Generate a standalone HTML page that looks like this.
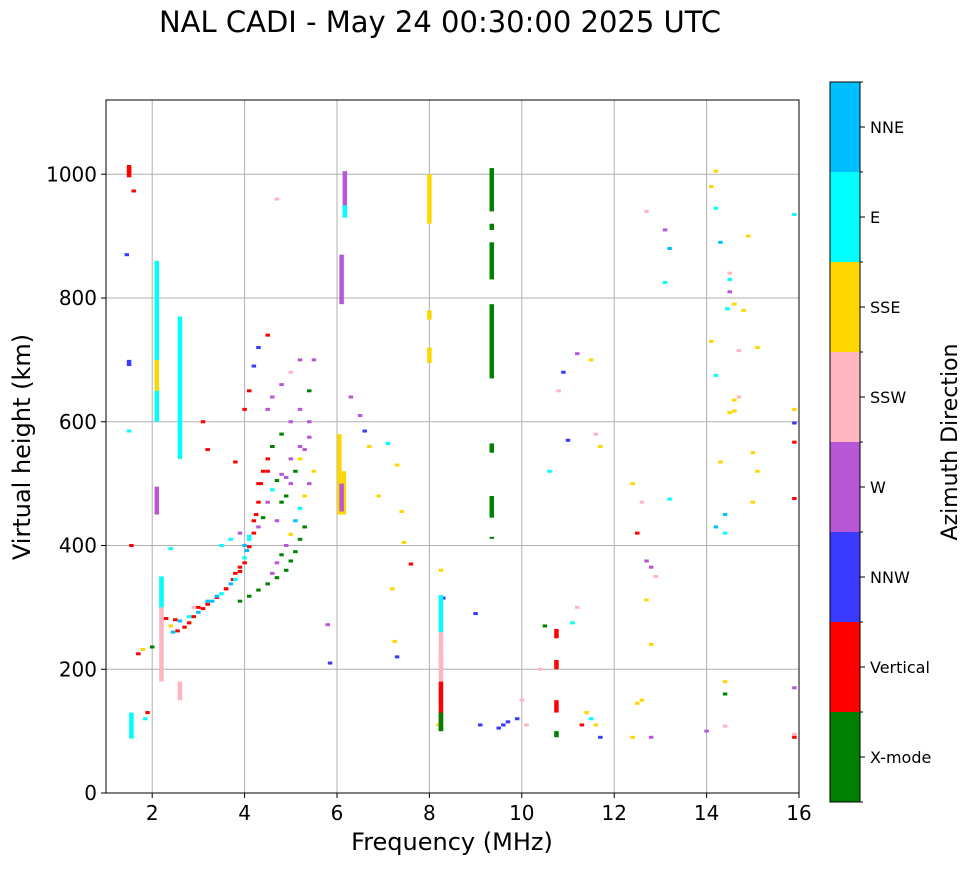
<!DOCTYPE html>
<html><head><meta charset="utf-8"><style>
body{margin:0;background:#fff;font-family:"DejaVu Sans","Liberation Sans",sans-serif}
svg text{font-family:"DejaVu Sans","Liberation Sans",sans-serif}
</style></head><body>
<svg id="chart" width="972" height="865">
<text x="440" y="32" font-size="29" text-anchor="middle">NAL CADI - May 24 00:30:00 2025 UTC</text>
<g id="grid"></g><g id="marks"></g><g id="axes"></g><g id="cbar"></g>
<text x="452" y="850" font-size="24" text-anchor="middle">Frequency (MHz)</text>
<text x="30" y="447" font-size="24" text-anchor="middle" transform="rotate(-90 30 447)">Virtual height (km)</text>
<text x="957" y="442" font-size="22" text-anchor="middle" transform="rotate(-90 957 442)">Azimuth Direction</text>
</svg>
<script>
const xTicks=[2,4,6,8,10,12,14,16];
const yTicks=[0,200,400,600,800,1000];
const dirNames=["X-mode","Vertical","NNW","W","SSW","SSE","E","NNE"];
const dirColors=["#008000","#ff0000","#3a3aff","#b857d6","#ffb6c1","#ffd700","#00ffff","#00bfff"];
// scattered echoes: frequency (MHz), height (km), direction index
const ptF=[1.45,1.5,1.55,1.5,1.6,1.7,1.8,1.85,1.9,2.0,2.3,2.4,2.5,2.45,2.55,2.7,2.8,2.9,3.0,3.1,3.2,3.3,3.4,3.5,3.6,3.7,3.75,3.8,3.9,4.0,4.05,4.1,4.2,2.6,2.8,3.0,3.2,3.4,3.6,3.8,3.9,4.0,4.1,4.2,4.25,4.3,4.35,4.4,4.5,4.6,3.5,3.7,3.9,4.0,4.1,4.3,4.4,4.5,4.6,4.7,4.8,4.9,5.0,5.1,5.2,5.3,5.4,3.9,4.1,4.3,4.5,4.7,4.9,5.0,5.1,5.2,5.3,4.6,4.7,4.8,4.9,5.0,5.1,5.2,5.3,5.4,5.5,4.7,4.8,4.9,5.0,5.2,5.4,4.5,4.6,4.8,5.0,5.2,4.6,4.8,5.0,5.2,5.4,5.5,4.3,4.5,4.0,4.1,4.2,4.3,4.5,4.7,3.8,3.2,3.1,2.6,2.4,2.9,5.8,5.85,6.3,6.5,6.6,6.7,6.9,7.1,7.3,7.4,7.45,7.6,7.2,7.25,7.3,8.2,8.25,8.3,9.0,9.1,9.5,9.6,9.7,9.9,10.0,10.1,10.4,10.5,10.6,10.8,10.9,11.0,11.2,11.3,11.4,11.5,11.6,11.7,11.1,11.2,11.5,11.6,11.7,12.4,12.5,12.6,12.7,12.8,12.9,12.7,12.8,12.6,12.5,12.4,12.8,13.1,13.2,13.1,13.2,12.7,14.0,14.2,14.3,14.4,14.4,14.4,14.4,14.5,14.5,14.5,14.6,14.8,14.9,14.1,14.2,14.3,14.2,14.5,14.7,15.0,15.1,15.1,15.0,14.7,14.6,14.2,14.1,14.4,15.9,15.9,15.9,15.9,15.9,15.9,15.9,15.9];
const ptH=[870,585,400,1005,973,225,232,120,130,236,282,270,280,260,262,268,275,285,292,298,305,310,316,322,330,338,345,355,365,380,392,410,440,278,285,300,310,318,330,345,358,372,398,420,450,470,500,520,540,560,400,410,420,400,415,430,445,470,490,505,515,480,500,520,540,555,575,310,318,328,338,348,360,375,390,410,430,355,372,385,400,418,440,460,480,500,520,440,470,510,540,560,600,620,640,660,680,700,560,580,600,620,650,700,500,520,620,650,690,720,740,960,535,555,600,590,395,300,272,210,640,610,585,560,480,565,530,455,405,370,330,245,220,110,360,315,290,110,105,110,115,120,150,110,200,270,520,650,680,570,300,110,130,120,110,90,275,710,700,580,560,500,420,470,375,365,350,312,240,150,145,90,90,910,880,825,475,940,100,430,535,420,450,160,108,840,830,810,790,780,900,980,945,890,675,615,640,550,720,520,470,715,635,1005,730,180,170,95,935,90,620,598,476,567,490,790,720,118];
const ptD=[2,6,1,1,1,1,5,6,1,0,1,5,1,7,1,1,1,1,7,1,1,7,1,6,1,7,1,1,1,6,7,6,1,7,6,1,7,7,1,6,1,1,1,1,1,1,1,1,1,1,6,6,3,7,6,3,0,3,6,0,3,0,3,0,5,3,3,0,0,0,0,0,0,0,0,0,0,3,3,0,3,5,7,6,5,3,5,3,0,3,3,3,3,3,3,3,4,3,0,0,3,3,0,3,1,1,1,1,2,2,1,4,1,1,1,5,6,4,3,2,3,3,2,5,5,6,5,5,5,1,5,5,2,5,5,2,2,2,2,2,2,2,4,4,4,0,6,4,2,2,4,1,5,6,5,2,6,3,5,4,5,5,1,4,3,3,4,5,5,5,5,5,3,3,7,6,6,4,3,7,5,6,7,0,4,4,6,3,5,5,5,5,6,7,6,5,4,5,5,5,5,4,5,5,5,5,3,4,6,1,5,2,1,1,1,0,6,5,5,5];
// vertical echo columns: frequency, low height, high height, direction
const segF=[1.5,1.5,1.55,2.1,2.1,2.1,2.2,2.2,2.6,2.6,6.17,6.17,6.1,6.05,6.15,6.1,8.0,8.0,8.0,8.25,8.25,8.25,8.25,8.25,9.35,9.35,9.35,9.35,9.35,9.35,9.35,10.75,10.75,10.75,10.75,14.45,14.6];
const segLo=[995,690,88,600,650,450,180,300,540,150,930,930,790,450,450,455,920,695,765,140,100,100,260,200,670,830,910,940,550,445,412,130,200,250,90,780,615];
const segHi=[1015,700,130,860,700,495,350,350,770,180,1005,950,870,580,520,500,1000,720,780,260,180,130,320,230,790,890,920,1010,565,480,414,150,215,265,100,785,620];
const segD=[1,2,6,6,5,3,4,6,6,4,3,6,3,5,5,3,5,5,5,4,1,0,6,4,0,0,0,0,0,0,0,1,1,1,0,6,5];

const L=106,R=799,T=100,B=793,XMIN=1,XMAX=16,YMIN=0,YMAX=1120;
const xs=f=>L+(f-XMIN)/(XMAX-XMIN)*(R-L);
const ys=h=>B-(h-YMIN)/(YMAX-YMIN)*(B-T);
const NS="http://www.w3.org/2000/svg";
function mk(tag,attrs,parent){const e=document.createElementNS(NS,tag);for(const k in attrs)e.setAttribute(k,attrs[k]);parent.appendChild(e);return e;}
const grid=document.getElementById('grid'),marks=document.getElementById('marks'),axes=document.getElementById('axes'),cbar=document.getElementById('cbar');
xTicks.forEach(t=>{const l=mk('line',{x1:xs(t),x2:xs(t),y1:T,y2:B,stroke:'#b0b0b0','stroke-width':1},grid);


const tk=mk('line',{x1:xs(t),x2:xs(t),y1:B,y2:B+5,stroke:'#000'},axes);


const tx=mk('text',{x:xs(t),y:B+27,'font-size':20,'text-anchor':'middle'},axes);tx.textContent=t;

});
yTicks.forEach(t=>{const l=mk('line',{x1:L,x2:R,y1:ys(t),y2:ys(t),stroke:'#b0b0b0','stroke-width':1},grid);


const tk=mk('line',{x1:L-5,x2:L,y1:ys(t),y2:ys(t),stroke:'#000'},axes);


const tx=mk('text',{x:L-9,y:ys(t)+7,'font-size':20,'text-anchor':'end'},axes);tx.textContent=t;

});
const fr=mk('rect',{x:L,y:T,width:R-L,height:B-T,fill:'none',stroke:'#000'},axes);


const cw=4.5;
ptF.forEach((f,i)=>{const r=mk('rect',{x:xs(f)-cw/2,y:ys(ptH[i])-1.5,width:cw,height:3,fill:dirColors[ptD[i]]},marks);

});
segF.forEach((f,i)=>{const r=mk('rect',{x:xs(f)-cw/2,y:ys(segHi[i]),width:cw,height:Math.max(2,ys(segLo[i])-ys(segHi[i])),fill:dirColors[segD[i]]},marks);

});
const cx=830,cwid=30,ctop=82,cbot=802,seg=(cbot-ctop)/dirNames.length;
dirNames.forEach((n,i)=>{const y0=cbot-(i+1)*seg;
const r=mk('rect',{x:cx,y:y0,width:cwid,height:seg,fill:dirColors[i]},cbar);


const tk=mk('line',{x1:cx+cwid,x2:cx+cwid+5,y1:y0+seg/2,y2:y0+seg/2,stroke:'#000'},cbar);


const tx=mk('text',{x:cx+cwid+10,y:y0+seg/2+6,'font-size':16},cbar);tx.textContent=n;

});
for(let i=0;i<=dirNames.length;i++){const y=cbot-i*seg;const tk=mk('line',{x1:cx+cwid,x2:cx+cwid+3,y1:y,y2:y,stroke:'#000'},cbar);

}
const cf=mk('rect',{x:cx,y:ctop,width:cwid,height:cbot-ctop,fill:'none',stroke:'#000'},cbar);


</script>
</body></html>
